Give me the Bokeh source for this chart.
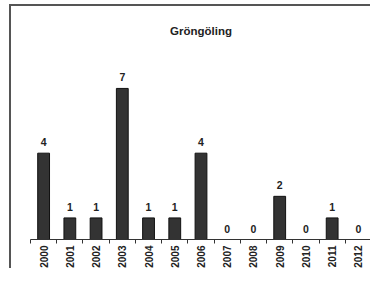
import math
from bokeh.plotting import figure
from bokeh.models import FixedTicker, ColumnDataSource, Range1d
from bokeh.core.properties import value
from bokeh.embed import file_html
from bokeh.resources import INLINE

years = ["2000", "2001", "2002", "2003", "2004", "2005", "2006",
         "2007", "2008", "2009", "2010", "2011", "2012"]
counts = [4, 1, 1, 7, 1, 1, 4, 0, 0, 2, 0, 1, 0]
title_text = "Gröngöling"

n = len(years)
xs = [i + 0.5 for i in range(n)]
src = ColumnDataSource(dict(x=xs, top=counts, label=[str(c) for c in counts]))

p = figure(width=361, height=264, output_backend="svg", toolbar_location=None,
           x_range=Range1d(0, n), y_range=Range1d(0, 9.36),
           min_border_left=19, min_border_right=1, min_border_top=31,
           min_border_bottom=29, title=title_text,
           styles={"margin-left": "9px", "margin-top": "4px",
                   "border-left": "2px solid #555", "border-top": "2px solid #555"})
p.outline_line_color = None
p.xgrid.visible = False
p.ygrid.visible = False
p.yaxis.visible = False

p.title.align = "center"
p.title.text_font = "Liberation Sans"
p.title.text_font_size = "11.5px"
p.title.text_font_style = "bold"
p.title.text_color = "#222"
p.title.offset = 0
p.title.standoff = 1

p.vbar(x="x", top="top", width=0.45, source=src, fill_color="#333333",
       line_color="#111", line_width=1)
p.text(x="x", y="top", text="label", source=src, text_align="center",
       text_baseline="bottom", y_offset=-7, text_font_size="10.5px",
       text_font_style="bold", text_color="#222",
       text_font=value("Liberation Sans"))

ax = p.xaxis[0]
ax.ticker = FixedTicker(ticks=xs, minor_ticks=list(range(n + 1)))
ax.major_label_overrides = {x: y for x, y in zip(xs, years)}
ax.major_tick_line_color = None
ax.major_tick_out = 0
ax.major_tick_in = 0
ax.minor_tick_line_color = "#333"
ax.minor_tick_out = 4
ax.minor_tick_in = 0
ax.axis_line_color = "#333"
ax.axis_line_width = 1.2
ax.major_label_orientation = math.pi / 2
ax.major_label_text_font = "Liberation Sans"
ax.major_label_text_font_size = "10px"
ax.major_label_text_font_style = "bold"
ax.major_label_text_color = "#222"
ax.major_label_standoff = 2

open("out.html", "w").write(file_html(p, INLINE))
